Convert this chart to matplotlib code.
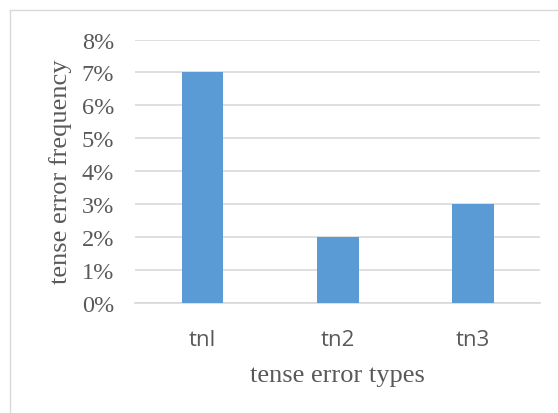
import matplotlib.pyplot as plt
from matplotlib.lines import Line2D
from matplotlib.ticker import FuncFormatter

# Data
categories = ["tnl", "tn2", "tn3"]
frequency = [0.07, 0.02, 0.03]

text_color = "#595959"
serif = ["Liberation Serif", "DejaVu Serif"]
sans = ["Open Sans", "Liberation Sans", "DejaVu Sans"]

fig = plt.figure(figsize=(5.58, 4.14), dpi=100)
ax = fig.add_axes([0.242, 0.266, 0.726, 0.636])

x = range(len(categories))
ax.bar(x, frequency, width=0.31, color="#5B9BD5", zorder=3)

ax.set_xlim(-0.5, 2.5)
ax.set_ylim(0, 0.08)
ax.set_yticks([i / 100 for i in range(9)])
ax.yaxis.set_major_formatter(FuncFormatter(lambda v, p: f"{v * 100:.0f}%"))
ax.set_xticks(list(x))
ax.set_xticklabels(categories, fontfamily=sans, fontsize=16, color=text_color)
for t in ax.get_yticklabels():
    t.set_fontfamily(serif)
    t.set_fontsize(17.5)
    t.set_color(text_color)

ax.grid(axis="y", color="#D9D9D9", linewidth=1.2, zorder=0)
for s in ["top", "right", "left"]:
    ax.spines[s].set_visible(False)
ax.spines["bottom"].set_color("#D9D9D9")
ax.spines["bottom"].set_linewidth(1.2)
ax.tick_params(axis="y", length=0, pad=15)
ax.tick_params(axis="x", length=0, pad=19)

ax.set_xlabel("tense error types", fontfamily=serif, fontsize=19,
              color=text_color, labelpad=10)
ax.set_ylabel("tense error frequency", fontfamily=serif, fontsize=19,
              color=text_color, labelpad=7)

# chart frame (top and left edges visible)
fig.add_artist(Line2D([10 / 558, 10 / 558], [0, 1 - 11 / 414],
                      transform=fig.transFigure, color="#D9D9D9", linewidth=1))
fig.add_artist(Line2D([10 / 558, 1], [1 - 11 / 414, 1 - 11 / 414],
                      transform=fig.transFigure, color="#D9D9D9", linewidth=1))

plt.savefig("out.png", dpi=100)
